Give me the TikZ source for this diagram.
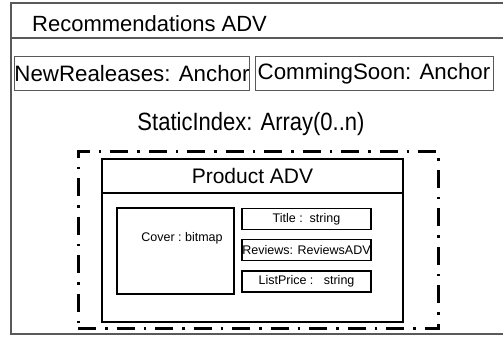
\documentclass[tikz,border=0pt]{standalone}
\usepackage{fontspec}
\setmainfont{Liberation Sans}
\begin{document}
\begin{tikzpicture}[x=1pt, y=-1pt,
  framecol/.style={draw={rgb,1:red,0.35;green,0.35;blue,0.35}, line width=1.2pt},
  anchorbox/.style={framecol, line width=1pt, inner sep=0pt, minimum height=33pt,
    font=\fontsize{22.3}{25}\selectfont},
  solidbox/.style={draw=black, line width=1.5pt, inner sep=0pt},
  fieldbox/.style={solidbox, minimum width=129pt, minimum height=21pt,
    font=\fontsize{12.5}{14}\selectfont},
  arraybox/.style={draw=black, line width=3pt, dash pattern=on 18pt off 9pt on 2.5pt off 9pt}
]
\useasboundingbox (0,0) rectangle (503,337);

% outer component frame, open on the right
\draw[framecol] (510,3) -- (11,3) -- (11,334) -- (510,334);
\draw[framecol] (11,38) -- (510,38);
\node[anchor=base west, inner sep=0pt, font=\fontsize{22}{25}\selectfont] (rtitle) at (32,31.5) {Recommendations ADV};

% anchors
\node[anchorbox, minimum width=234pt] (newrel) at (132,73.5) {NewRealeases: Anchor};
\node[anchorbox, minimum width=238pt] (coming) at (374,73.5) {CommingSoon: Anchor};

% static index array
\node[font=\fontsize{25}{29}\selectfont, inner sep=0pt] (sidx) at (251,124) {\scalebox{0.88}[1]{StaticIndex: Array(0..n)}};
\node[arraybox, minimum width=360pt, minimum height=177pt, inner sep=0pt] (arr) at (258,239.5) {};

% product element
\node[solidbox, minimum width=301pt, minimum height=163pt] (prod) at (252.5,240.5) {};
\node[solidbox, minimum width=301pt, minimum height=34pt, anchor=north,
  font=\fontsize{21}{24}\selectfont] (ptitle) at (prod.north) {Product ADV};

% fields
\node[solidbox, minimum width=117pt, minimum height=86pt] (cover) at (175.5,251) {};
\node[inner sep=0pt, font=\fontsize{12.5}{14}\selectfont] (covertxt) at (182,238) {Cover :\ bitmap};
\node[fieldbox] (title) at (306.5,219) {Title :\ \ string};
\node[fieldbox] (reviews) at (306.5,250) {Reviews: ReviewsADV};
\node[fieldbox] (price) at (306.5,281.5) {ListPrice :\ \ \ string};
\end{tikzpicture}
\end{document}
